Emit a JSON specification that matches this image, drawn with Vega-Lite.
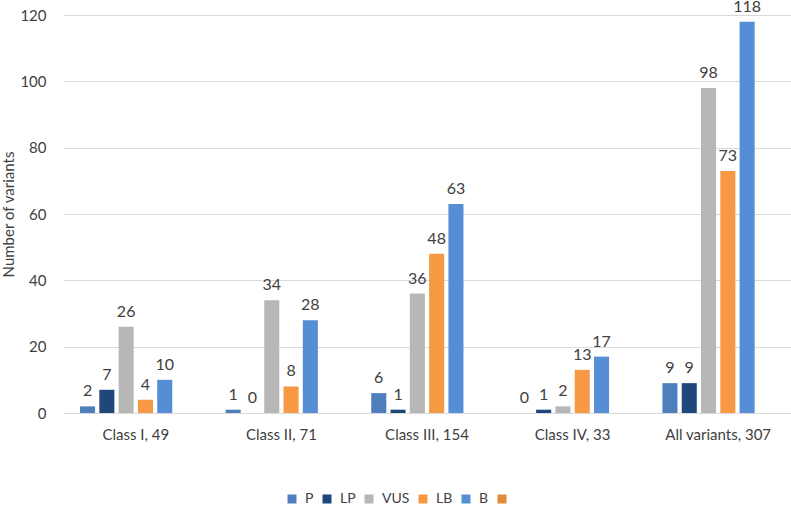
{
  "$schema": "https://vega.github.io/schema/vega-lite/v6.json",
  "width": 728,
  "height": 398,
  "autosize": {"type": "none"},
  "padding": {"left": 63, "top": 15, "right": 0, "bottom": 93},
  "background": "white",
  "config": {"view": {"stroke": null}, "font": "Lato"},
  "data": {
    "values": [
      {"category": "Class I, 49", "series": "P", "value": 2},
      {"category": "Class I, 49", "series": "LP", "value": 7},
      {"category": "Class I, 49", "series": "VUS", "value": 26},
      {"category": "Class I, 49", "series": "LB", "value": 4},
      {"category": "Class I, 49", "series": "B", "value": 10},
      {"category": "Class II, 71", "series": "P", "value": 1},
      {"category": "Class II, 71", "series": "LP", "value": 0},
      {"category": "Class II, 71", "series": "VUS", "value": 34},
      {"category": "Class II, 71", "series": "LB", "value": 8},
      {"category": "Class II, 71", "series": "B", "value": 28},
      {"category": "Class III, 154", "series": "P", "value": 6},
      {"category": "Class III, 154", "series": "LP", "value": 1},
      {"category": "Class III, 154", "series": "VUS", "value": 36},
      {"category": "Class III, 154", "series": "LB", "value": 48},
      {"category": "Class III, 154", "series": "B", "value": 63},
      {"category": "Class IV, 33", "series": "P", "value": 0},
      {"category": "Class IV, 33", "series": "LP", "value": 1},
      {"category": "Class IV, 33", "series": "VUS", "value": 2},
      {"category": "Class IV, 33", "series": "LB", "value": 13},
      {"category": "Class IV, 33", "series": "B", "value": 17},
      {"category": "All variants, 307", "series": "P", "value": 9},
      {"category": "All variants, 307", "series": "LP", "value": 9},
      {"category": "All variants, 307", "series": "VUS", "value": 98},
      {"category": "All variants, 307", "series": "LB", "value": 73},
      {"category": "All variants, 307", "series": "B", "value": 118}
    ]
  },
  "encoding": {
    "x": {
      "field": "category",
      "type": "nominal",
      "sort": ["Class I, 49", "Class II, 71", "Class III, 154", "Class IV, 33", "All variants, 307"],
      "scale": {"paddingInner": 0.234, "paddingOuter": 0.117},
      "axis": {
        "title": null,
        "labelAngle": 0,
        "ticks": false,
        "domain": false,
        "labelFontSize": 15,
        "labelColor": "#404040",
        "labelPadding": 14
      }
    },
    "xOffset": {
      "field": "series",
      "type": "nominal",
      "scale": {"domain": ["P", "LP", "VUS", "LB", "B", " "], "paddingInner": 0.22, "paddingOuter": 0}
    },
    "y": {
      "field": "value",
      "type": "quantitative",
      "scale": {"domain": [0, 120]},
      "axis": {
        "title": "Number of variants",
        "values": [0, 20, 40, 60, 80, 100, 120],
        "ticks": false,
        "domain": false,
        "gridColor": "#D9D9D9",
        "labelPadding": 17,
        "labelFontSize": 15,
        "labelColor": "#404040",
        "titleFontSize": 15,
        "titleFontWeight": "normal",
        "titleColor": "#404040",
        "titlePadding": 3
      }
    }
  },
  "layer": [
    {
      "mark": {"type": "bar"},
      "encoding": {
        "color": {
          "field": "series",
          "type": "nominal",
          "scale": {
            "domain": ["P", "LP", "VUS", "LB", "B", " "],
            "range": ["#4E7EBC", "#1F477A", "#B7B7B7", "#F79845", "#558ED5", "#E08A3C"]
          },
          "legend": {
            "title": null,
            "orient": "none",
            "legendX": 222,
            "legendY": 477,
            "direction": "horizontal",
            "symbolType": "square",
            "symbolSize": 81,
            "symbolStrokeWidth": 0,
            "labelFontSize": 14,
            "labelOffset": 6,
            "labelColor": "#404040",
            "columnPadding": 6
          }
        }
      }
    },
    {
      "mark": {"type": "text", "dy": -7, "baseline": "bottom", "fontSize": 16, "color": "#404040"},
      "encoding": {"text": {"field": "value", "type": "quantitative"}}
    }
  ]
}
